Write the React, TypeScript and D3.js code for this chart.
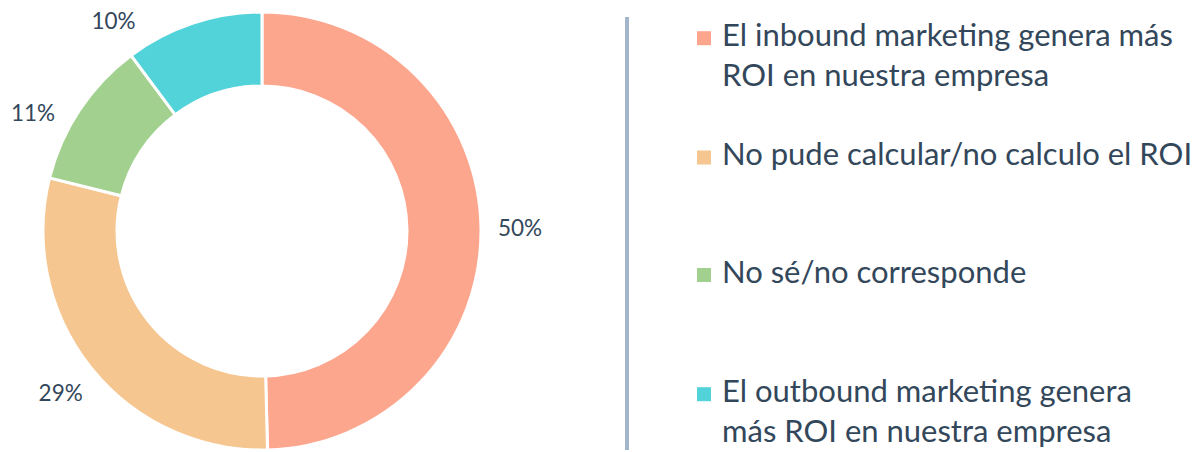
import React from "react";
import * as d3 from "d3";

const categories = [
  "El inbound marketing genera más ROI en nuestra empresa",
  "No pude calcular/no calculo el ROI",
  "No sé/no corresponde",
  "El outbound marketing genera más ROI en nuestra empresa",
];
const legendLines = [
  ["El inbound marketing genera más", "ROI en nuestra empresa"],
  ["No pude calcular/no calculo el ROI"],
  ["No sé/no corresponde"],
  ["El outbound marketing genera", "más ROI en nuestra empresa"],
];
const values = [49.6, 29.3, 10.9, 10.2];
const valueLabels = ["50%", "29%", "11%", "10%"];
const colors = ["#FDA68E", "#F5C68F", "#A2D18F", "#52D3D9"];

const W = 1193;
const H = 452;
const FONT = "Lato, 'Open Sans', sans-serif";
const TEXT = "#33475b";

export default function App() {
  const cx = 262;
  const cy = 231;
  const outerR = 219;
  const innerR = 145;
  const labelR = 258;

  const pie = d3.pie<number>().sort(null).value((d) => d);
  const arcs = pie(values);
  const arc = d3.arc<d3.PieArcDatum<number>>().innerRadius(innerR).outerRadius(outerR);
  const labelArc = d3.arc<d3.PieArcDatum<number>>().innerRadius(labelR).outerRadius(labelR);

  // label placement: centroid on label circle, clamped to stay inside the top,
  // then spread apart vertically on each side
  const minY = 20 - cy;
  const minGap = 92;
  const pos = arcs.map((a) => {
    const [x, y] = labelArc.centroid(a);
    return { x, y, side: x < 0 ? -1 : 1 };
  });
  [-1, 1].forEach((side) => {
    const idx = pos
      .map((p, i) => i)
      .filter((i) => pos[i].side === side)
      .sort((a, b) => pos[a].y - pos[b].y);
    let prev = -Infinity;
    idx.forEach((i) => {
      let y = Math.max(pos[i].y, minY, prev + minGap);
      y = Math.min(y, labelR);
      pos[i].y = y;
      pos[i].x = side * Math.sqrt(Math.max(0, labelR * labelR - y * y));
      prev = y;
    });
  });

  const baselines = [45.7, 165, 282.5, 401.7];
  const lineH = 40;

  return (
    <svg
      width={W}
      height={H}
      style={{ position: "absolute", left: 0, top: 0, background: "#fff" }}
    >
      <g transform={`translate(${cx},${cy})`}>
        {arcs.map((a, i) => (
          <path key={i} d={arc(a) || ""} fill={colors[i]} stroke="#fff" strokeWidth={3} />
        ))}
        {arcs.map((a, i) => (
          <text
            key={"l" + i}
            x={pos[i].x}
            y={pos[i].y}
            textAnchor="middle"
            dominantBaseline="central"
            fontFamily={FONT}
            fontSize={22.5}
            fill={TEXT}
          >
            {valueLabels[i]}
          </text>
        ))}
      </g>
      <rect x={625} y={17} width={4} height={433} fill="#A3B5CB" />
      {categories.map((c, i) => (
        <g key={c}>
          <rect x={697} y={baselines[i] - 14.5} width={14} height={14} fill={colors[i]} />
          <text x={722} y={baselines[i]} fontFamily={FONT} fontSize={31} fill={TEXT}>
            {legendLines[i].map((ln, j) => (
              <tspan key={j} x={722} y={baselines[i] + j * lineH}>
                {ln}
              </tspan>
            ))}
          </text>
        </g>
      ))}
    </svg>
  );
}
